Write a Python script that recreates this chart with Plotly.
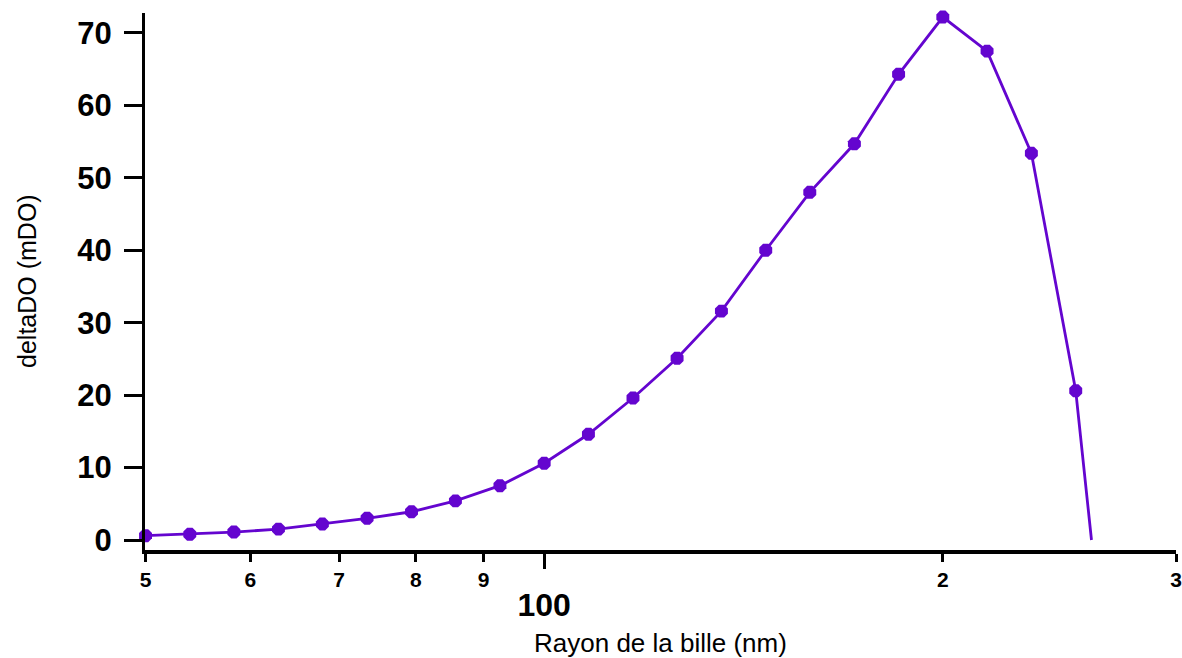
import math
import plotly.graph_objects as go

# Data
rayon_nm = [50, 54, 58.3, 63, 68, 73.5, 79.4, 85.7, 92.6, 100, 108, 116.7, 126,
            136.1, 147, 158.7, 171.5, 185.2, 200, 216, 233.3, 252, 259]
delta_do = [0.6, 0.8, 1.1, 1.5, 2.2, 3.0, 3.9, 5.4, 7.5, 10.6, 14.6, 19.6, 25.1,
            31.6, 40.0, 48.0, 54.7, 64.3, 72.2, 67.5, 53.4, 20.6, 0.0]
has_marker = [True] * 22 + [False]

minor_tick_vals = [50, 60, 70, 80, 90, 200, 300]
minor_tick_text = ["5", "6", "7", "8", "9", "2", "3"]
major_tick_vals = [100]
major_tick_text = ["100"]
y_tick_vals = [0, 10, 20, 30, 40, 50, 60, 70]

x_title = "Rayon de la bille (nm)"
y_title = "deltaDO (mDO)"

color = "#6405cf"
font_family = "Liberation Sans, Arial, sans-serif"

fig = go.Figure()
fig.add_trace(go.Scatter(
    x=rayon_nm, y=delta_do, mode="lines+markers",
    line=dict(color=color, width=2.8),
    marker=dict(symbol="octagon", color=color, opacity=1,
                size=[14 if m else 0 for m in has_marker],
                line=dict(width=0)),
    showlegend=False, cliponaxis=False, hoverinfo="skip",
))
# invisible trace to activate the secondary x axis (major tick "100")
fig.add_trace(go.Scatter(x=[rayon_nm[0]], y=[delta_do[0]], xaxis="x2",
                         mode="markers", marker=dict(opacity=0),
                         showlegend=False, hoverinfo="skip"))

xr = [math.log10(50) - 0.0004, math.log10(300)]

fig.update_layout(
    width=1182, height=658,
    margin=dict(l=145, r=6, t=13, b=108),
    paper_bgcolor="white", plot_bgcolor="white",
    hovermode=False,
    font=dict(family=font_family, color="black"),
    xaxis=dict(
        type="log", range=xr, automargin=False,
        tickvals=minor_tick_vals, ticktext=minor_tick_text,
        ticks="outside", ticklen=8, tickwidth=3, tickcolor="black",
        tickfont=dict(size=21, family=font_family, color="black", weight="bold"),
        ticklabelstandoff=0,
        showline=True, linecolor="black", linewidth=3.5,
        showgrid=False, zeroline=False,
    ),
    xaxis2=dict(
        type="log", range=xr, overlaying="x", anchor="y", side="bottom",
        automargin=False,
        tickvals=major_tick_vals, ticktext=major_tick_text,
        ticks="outside", ticklen=18, tickwidth=3, tickcolor="black",
        tickfont=dict(size=32, family=font_family, color="black", weight="bold"),
        ticklabelstandoff=9,
        showline=False, showgrid=False, zeroline=False,
    ),
    yaxis=dict(
        range=[-1.38, 72.76], automargin=False,
        tickvals=y_tick_vals,
        ticks="outside", ticklen=18, tickwidth=3, tickcolor="black",
        tickfont=dict(size=31, family=font_family, color="black", weight="bold"),
        ticklabelstandoff=6,
        showline=True, linecolor="black", linewidth=3,
        showgrid=False, zeroline=False,
    ),
    annotations=[
        dict(text=x_title, xref="paper", yref="paper", x=0.5, y=-0.1732,
             xanchor="center", yanchor="middle", showarrow=False,
             font=dict(size=26, family=font_family, color="black")),
        dict(text=y_title, xref="paper", yref="paper", x=-0.1145, y=0.5009,
             xanchor="center", yanchor="middle", showarrow=False, textangle=-90,
             font=dict(size=25, family=font_family, color="black")),
    ],
)

fig.write_html(
    "out.html",
    config={"displayModeBar": False, "staticPlot": True},
    post_script="document.body.style.margin='0';document.body.style.overflow='hidden';",
)
